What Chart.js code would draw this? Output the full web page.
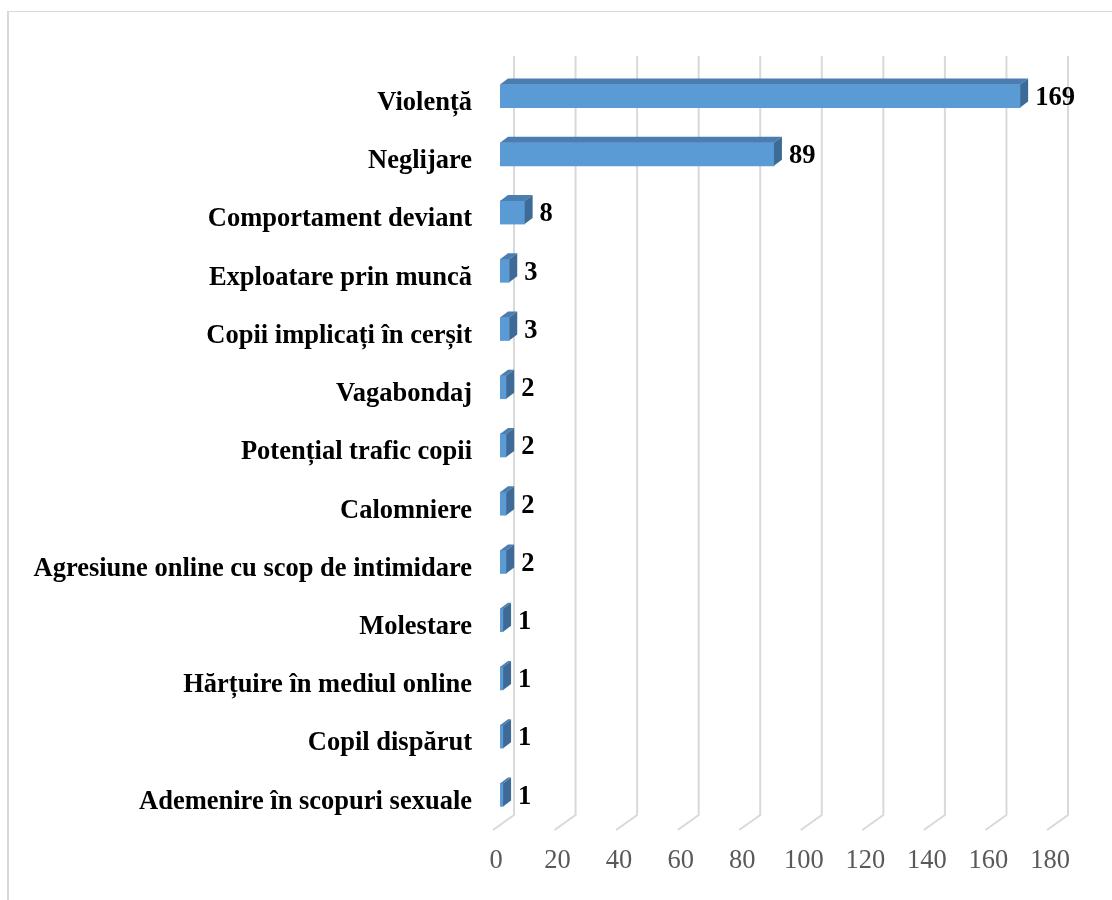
<!DOCTYPE html>
<html>
<head>
<meta charset="utf-8">
<script src="https://cdn.jsdelivr.net/npm/chart.js@4/dist/chart.umd.min.js"></script>
<style>
  html, body { margin: 0; padding: 0; background: #ffffff; }
  #frame {
    position: absolute; left: 7px; top: 11px; width: 1200px; height: 1000px;
    border-left: 2px solid #d9d9d9; border-top: 1px solid #d9d9d9;
  }
  #chart { position: absolute; left: 0; top: 0; }
</style>
</head>
<body>
<div id="frame"></div>
<canvas id="chart" width="1112" height="900"></canvas>
<script>
// Cases by type of situation
const categories = [
  'Violență',
  'Neglijare',
  'Comportament deviant',
  'Exploatare prin muncă',
  'Copii implicați în cerșit',
  'Vagabondaj',
  'Potențial trafic copii',
  'Calomniere',
  'Agresiune online cu scop de intimidare',
  'Molestare',
  'Hărțuire în mediul online',
  'Copil dispărut',
  'Ademenire în scopuri sexuale'
];
const cases = [169, 89, 8, 3, 3, 2, 2, 2, 2, 1, 1, 1, 1];
const axisMin = 0;
const axisMax = 180;
const axisStep = 20;

const SERIF = "'Times New Roman', 'Liberation Serif', serif";
const FONT_SIZE = 26.5;
const DEPTH_X = 8;   // bar depth offset (3D look)
const DEPTH_Y = 6;

// Draws the slanted back-wall/floor gridlines, the 3D bar faces and the value labels
const bar3d = {
  id: 'bar3d',
  beforeDatasetsDraw(chart) {
    const ctx = chart.ctx;
    const xs = chart.scales.x;
    const { top, bottom } = chart.chartArea;
    ctx.save();
    ctx.strokeStyle = '#d9d9d9';
    ctx.lineWidth = 2;
    ctx.lineJoin = 'miter';
    xs.ticks.forEach(t => {
      const px = xs.getPixelForValue(t.value);
      ctx.beginPath();
      ctx.moveTo(px + 14, top - 11);
      ctx.lineTo(px + 14, bottom - 9);
      ctx.lineTo(px - 7, bottom + 6);
      ctx.stroke();
    });
    ctx.restore();
  },
  afterDatasetsDraw(chart) {
    const ctx = chart.ctx;
    const meta = chart.getDatasetMeta(0);
    ctx.save();
    meta.data.forEach((bar, i) => {
      const { x, y, base, height } = bar.getProps(['x', 'y', 'base', 'height'], true);
      const t = y - height / 2;
      const b = y + height / 2;
      // top face
      ctx.fillStyle = '#4a7db0';
      ctx.beginPath();
      ctx.moveTo(base, t);
      ctx.lineTo(base + DEPTH_X, t - DEPTH_Y);
      ctx.lineTo(x + DEPTH_X, t - DEPTH_Y);
      ctx.lineTo(x, t);
      ctx.closePath();
      ctx.fill();
      // side face
      ctx.fillStyle = '#3d6a96';
      ctx.beginPath();
      ctx.moveTo(x, t);
      ctx.lineTo(x + DEPTH_X, t - DEPTH_Y);
      ctx.lineTo(x + DEPTH_X, b - DEPTH_Y);
      ctx.lineTo(x, b);
      ctx.closePath();
      ctx.fill();
      // value label
      ctx.fillStyle = '#000000';
      ctx.font = 'bold ' + FONT_SIZE + 'px ' + SERIF;
      ctx.textAlign = 'left';
      ctx.textBaseline = 'middle';
      ctx.fillText(String(cases[i]), x + 15, y + 2);
    });
    ctx.restore();
  }
};

new Chart(document.getElementById('chart'), {
  type: 'bar',
  data: {
    labels: categories,
    datasets: [{
      data: cases,
      backgroundColor: '#5b9bd5',
      borderWidth: 0,
      barThickness: 23
    }]
  },
  options: {
    indexAxis: 'y',
    responsive: false,
    animation: false,
    layout: { padding: { top: 67, right: 58, bottom: 0, left: 0 } },
    plugins: { legend: { display: false }, tooltip: { enabled: false } },
    scales: {
      x: {
        min: axisMin,
        max: axisMax,
        grid: { display: false, drawTicks: false },
        border: { display: false },
        ticks: {
          stepSize: axisStep,
          padding: 21,
          labelOffset: -4,
          color: '#595959',
          font: { family: SERIF, size: FONT_SIZE }
        },
        afterFit(scale) { scale.height = 76; }
      },
      y: {
        grid: { display: false, drawTicks: false },
        border: { display: false },
        ticks: {
          padding: 28,
          labelOffset: 7,
          color: '#000000',
          font: { family: SERIF, size: FONT_SIZE, weight: 'bold' }
        },
        afterFit(scale) { scale.width = 500; }
      }
    }
  },
  plugins: [bar3d]
});
</script>
</body>
</html>
